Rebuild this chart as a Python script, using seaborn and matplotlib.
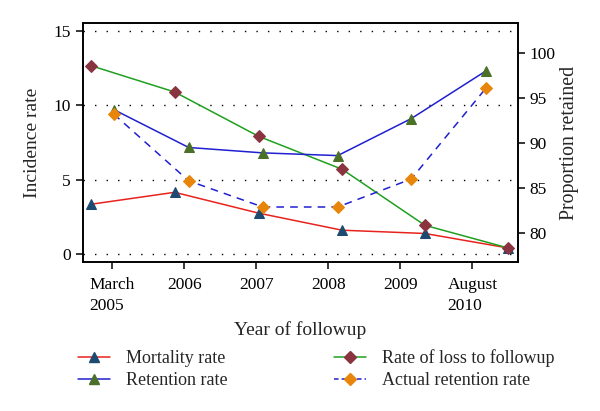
import matplotlib
matplotlib.use("Agg")
import matplotlib.pyplot as plt
from matplotlib.lines import Line2D
import seaborn as sns
import numpy as np

# x tick positions / labels
tick_pos = [0, 1, 2, 3, 4, 5]
tick_labels = ["March\n2005", "2006", "2007", "2008", "2009", "August\n2010"]

# incidence-rate series (left axis) sit on their own time positions
x_incidence = [-0.29, 0.865, 2.03, 3.19, 4.34, 5.5]
mortality = [3.35, 4.15, 2.75, 1.6, 1.38, 0.4]
loss_followup = [12.66, 10.9, 7.92, 5.7, 1.93, 0.4]

# retention series (right axis)
x_retention = [0.02, 1.06, 2.09, 3.13, 4.15, 5.19]
retention = [93.7, 89.5, 88.9, 88.6, 92.7, 98.0]
actual_retention = [93.2, 85.8, 82.9, 82.9, 86.0, 96.1]

sns.set_style("ticks")
plt.rcParams["font.family"] = ["Liberation Serif", "DejaVu Serif"]
plt.rcParams["font.size"] = 12.5

red = "#e8231d"
navy = "#1d4a70"
green_line = "#1fa01f"
blue = "#2020d0"
olive = "#4b7028"
brown = "#8a3440"
orange = "#e8860c"

fig = plt.figure(figsize=(6, 4.11), dpi=100)
ax = fig.add_axes([0.138, 0.3625, 0.725, 0.5815])
ax2 = ax.twinx()

# grid on left axis
for yv in [0, 5, 10, 15]:
    ax.axhline(yv, color="black", linestyle=(0, (1, 7.3)), linewidth=1.0, zorder=0)

sns.lineplot(x=x_incidence, y=mortality, ax=ax, color=red, linewidth=1.1,
             marker="^", markersize=7, markerfacecolor=navy, markeredgecolor=navy)
sns.lineplot(x=x_incidence, y=loss_followup, ax=ax, color=green_line, linewidth=1.1,
             marker="D", markersize=6, markerfacecolor=brown, markeredgecolor=brown)
sns.lineplot(x=x_retention, y=retention, ax=ax2, color=blue, linewidth=1.1,
             marker="^", markersize=7, markerfacecolor=olive, markeredgecolor=olive)
sns.lineplot(x=x_retention, y=actual_retention, ax=ax2, color=blue, linewidth=1.1,
             linestyle=(0, (5, 4)),
             marker="D", markersize=6, markerfacecolor=orange, markeredgecolor=orange)

ax.set_xlim(-0.41, 5.63)
ax.set_ylim(-0.54, 15.54)
ax2.set_ylim(76.8, 103.3)
ax.set_yticks([0, 5, 10, 15])
ax2.set_yticks([80, 85, 90, 95, 100])
ax.set_xticks(tick_pos)
ax.set_xticklabels(tick_labels)
for lab in ax.get_xticklabels():
    lab.set_multialignment("left")
    lab.set_linespacing(1.4)

ax.tick_params(axis="both", direction="out", length=5, width=1.1, labelsize=12.5, colors="black")
ax.tick_params(axis="x", pad=6)
ax2.tick_params(axis="y", direction="out", length=5, width=1.1, labelsize=12.5, colors="black")
for a in (ax, ax2):
    for s in a.spines.values():
        s.set_linewidth(1.2)
        s.set_color("black")
        s.set_visible(True)

ax.set_xlabel("Year of followup", fontsize=14, labelpad=5)
ax.set_ylabel("Incidence rate", fontsize=14, labelpad=9)
ax2.set_ylabel("Proportion retained", fontsize=14.3, labelpad=3)

handles = [
    Line2D([], [], color=red, lw=1.1, marker="^", markersize=7, markerfacecolor=navy, markeredgecolor=navy),
    Line2D([], [], color=blue, lw=1.1, marker="^", markersize=7, markerfacecolor=olive, markeredgecolor=olive),
    Line2D([], [], color=green_line, lw=1.1, marker="D", markersize=6, markerfacecolor=brown, markeredgecolor=brown),
    Line2D([], [], color=blue, lw=1.1, ls=(0, (3, 2)), marker="D", markersize=6, markerfacecolor=orange, markeredgecolor=orange),
]
labels = ["Mortality rate", "Retention rate", "Rate of loss to followup", "Actual retention rate"]
fig.legend(handles, labels, ncol=2, frameon=False, loc="upper left",
           bbox_to_anchor=(0.118, 0.168), fontsize=13, handlelength=1.75,
           handletextpad=0.9, columnspacing=5.9, labelspacing=0.3, borderaxespad=0)

fig.savefig("out.png", dpi=100)
